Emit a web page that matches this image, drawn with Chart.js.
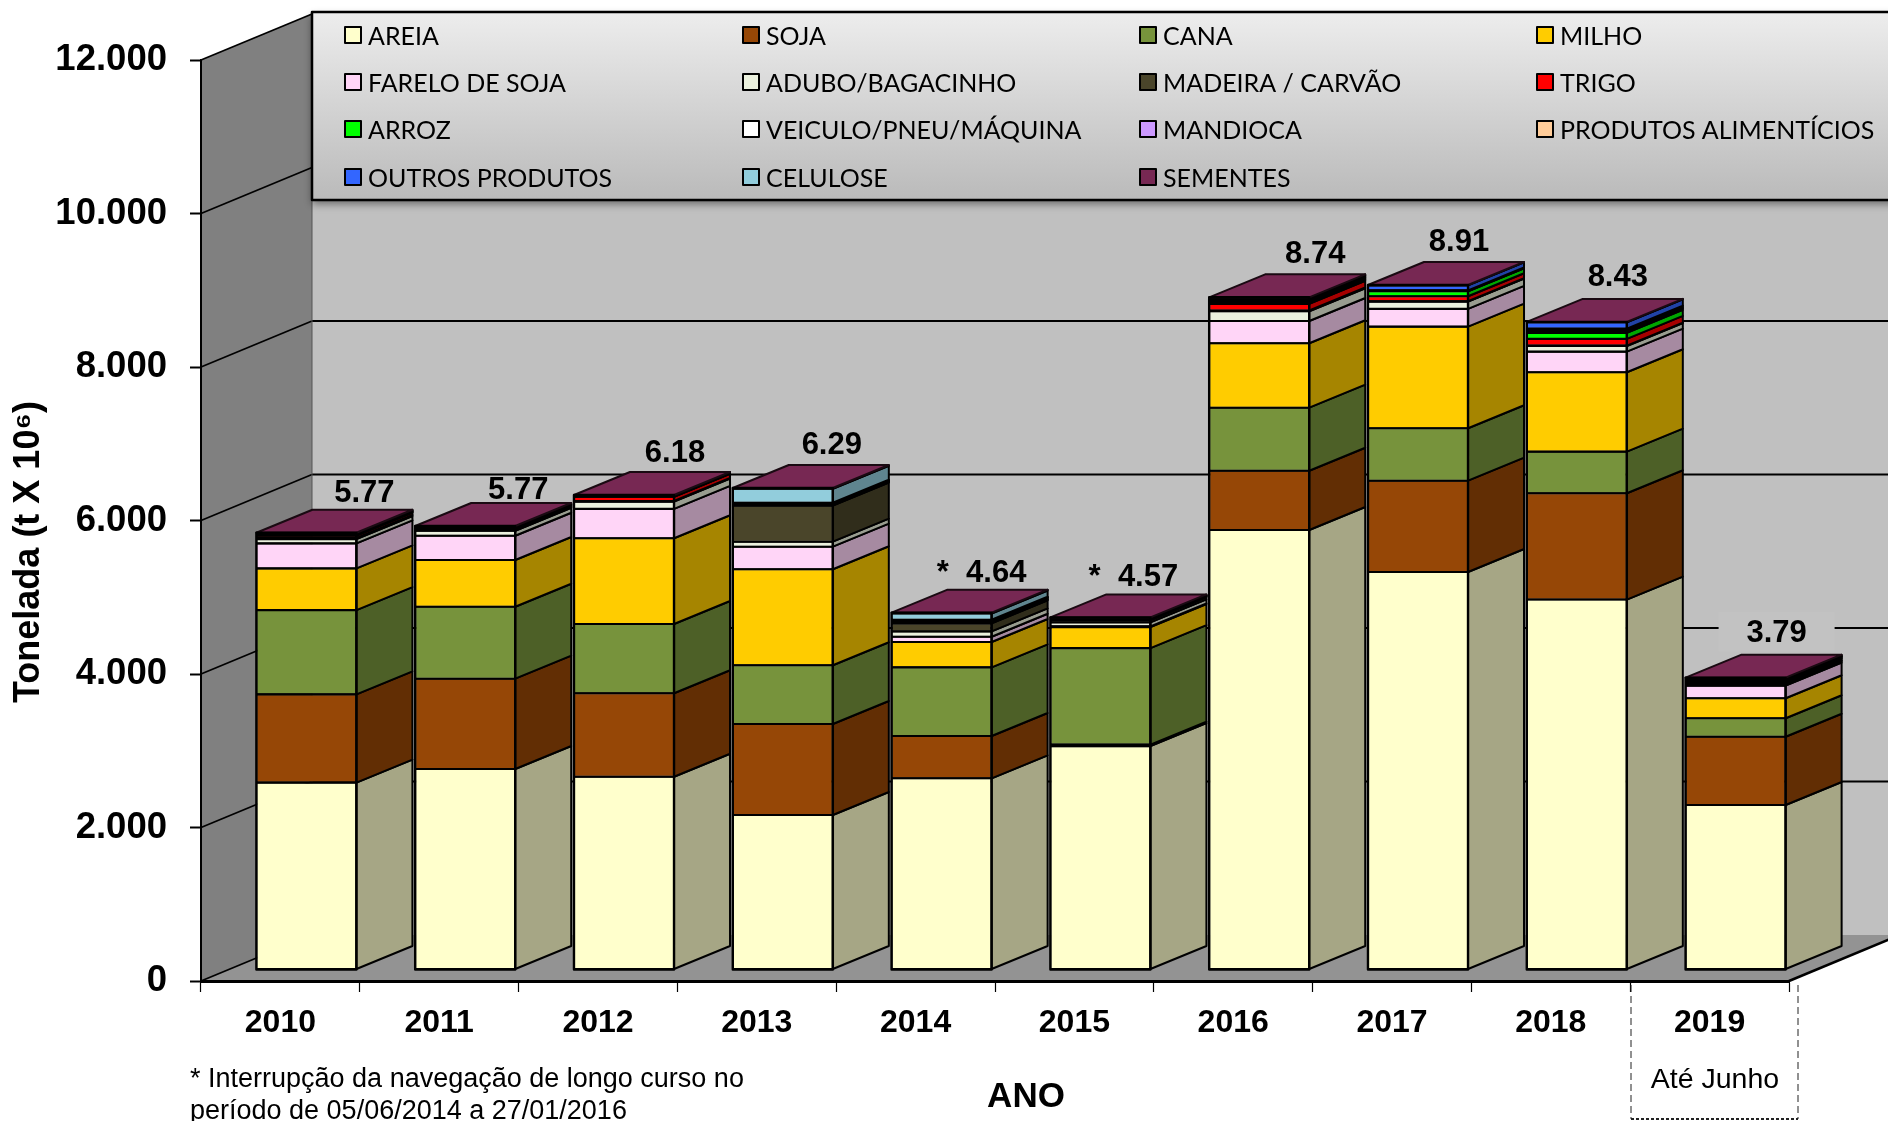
<!DOCTYPE html>
<html lang="pt">
<head>
<meta charset="utf-8">
<title>Tonelada por ano</title>
<style>html,body{margin:0;padding:0;background:#fff}canvas{display:block}</style>
<script src="https://cdn.jsdelivr.net/npm/chart.js@4"></script>
</head>
<body>
<canvas id="c" width="1888" height="1121"></canvas>
<script>
const years = ['2010','2011','2012','2013','2014','2015','2016','2017','2018','2019'];
const areia        = [2435,2612,2512,2013,2491,2910,5726,5179,4820,2143];
const soja         = [1150,1177,1087,1186, 551,  20, 773,1190,1385, 890];
const cana         = [1098, 938, 903, 765, 895,1257, 821, 683, 542, 240];
const milho        = [ 543, 608,1117,1251, 330, 274, 839,1324,1035, 261];
const farelo       = [ 326, 317, 382, 294,  69,  10, 291, 231, 268, 164];
const adubo        = [  56,  65,  95,  65,  69,  52, 126,  95,  74,  20];
const madeira      = [  15,   8,   8, 469, 104,  30,  10,   5,   5,  10];
const trigo        = [  30,  10,  55,  10,  10,   5,  87,  65,  87,  20];
const arroz        = [   5,   5,   3,   5,   5,   5,  15,  65,  78,  10];
const veiculo      = [   8,   8,   5,   8,  10,   5,  15,   3,  20,  10];
const mandioca     = [   5,   5,   3,   5,  10,   3,  15,   5,  18,  10];
const alimenticios = [   5,   5,   3,   5,   8,   3,  15,   3,  18,   5];
const outros       = [   3,   5,   3,   5,   5,   3,  10,  65,  82,   5];
const celulose     = [   0,   0,   0, 182,  82,   0,   0,   0,   0,   0];
const sementes     = [  12,  15,   7,  10,  10,  10,  15,   6,   6,  14];
const totalLabels  = ['5.77','5.77','6.18','6.29','*  4.64','*  4.57','8.74','8.91','8.43','3.79'];
const yTicks = [0,2000,4000,6000,8000,10000,12000];

const seriesNames = ['AREIA','SOJA','CANA','MILHO','FARELO DE SOJA','ADUBO/BAGACINHO','MADEIRA / CARVÃO','TRIGO','ARROZ','VEICULO/PNEU/MÁQUINA','MANDIOCA','PRODUTOS ALIMENTÍCIOS','OUTROS PRODUTOS','CELULOSE','SEMENTES'];
const seriesValues = [areia,soja,cana,milho,farelo,adubo,madeira,trigo,arroz,veiculo,mandioca,alimenticios,outros,celulose,sementes];
const seriesColors = ['#FFFFCC','#964706','#77933C','#FFCC00','#FFD5F7','#EBF1DE','#4A452A','#FF0000','#00FF00','#FFFFFF','#CC99FF','#FFCC99','#3366FF','#92CDDC','#772853'];
const SIDE_SHADE = 0.65;

// 3D geometry (pixels)
const WALL = {dx:111, dy:46};
const BAR  = {dx:26, dy:11.5};
const SIDE = {dx:56, dy:23};
const LABEL_OFF = [[58,-39.5],[53,-36],[51,-42],[49,-43],[40,-39],[33,-40],[56,-43],[41,-43],[41,-44],[41,-44]];
const FONT = '"Liberation Sans", Arial, sans-serif';

function shade(hex,f){
  const n=parseInt(hex.slice(1),16);
  return `rgb(${Math.round((n>>16&255)*f)},${Math.round((n>>8&255)*f)},${Math.round((n&255)*f)})`;
}
function poly(ctx,pts,fill,stroke,lw){
  ctx.beginPath();
  pts.forEach((p,i)=>i?ctx.lineTo(p[0],p[1]):ctx.moveTo(p[0],p[1]));
  ctx.closePath();
  if(fill){ctx.fillStyle=fill;ctx.fill();}
  if(stroke){ctx.strokeStyle=stroke;ctx.lineWidth=lw;ctx.lineJoin='round';ctx.stroke();}
}
function line(ctx,x1,y1,x2,y2,lw,color){
  ctx.beginPath();ctx.moveTo(x1,y1);ctx.lineTo(x2,y2);
  ctx.strokeStyle=color||'#000';ctx.lineWidth=lw;ctx.stroke();
}
function text(ctx,s,x,y,font,align){
  ctx.font=font;ctx.fillStyle='#000';ctx.textAlign=align||'center';ctx.textBaseline='middle';
  ctx.fillText(s,x,y);
}

const scene = {
  id:'scene',
  beforeDraw(chart){
    const {ctx,width,chartArea:a,scales:{y}}=chart;
    ctx.save();
    ctx.fillStyle='#fff';ctx.fillRect(0,0,width,chart.height);
    const b=a.bottom,t=a.top,l=a.left,r=a.right;
    const bx=l+WALL.dx,dy=WALL.dy;
    ctx.fillStyle='#C0C0C0';ctx.fillRect(bx,t-dy,width-bx,b-t);
    poly(ctx,[[l,b],[l,t],[bx,t-dy],[bx,b-dy]],'#808080');
    poly(ctx,[[l,b],[r,b],[r+WALL.dx,b-dy],[bx,b-dy]],'#939393');
    yTicks.forEach(v=>{
      const py=y.getPixelForValue(v);
      line(ctx,l,py,bx,py-dy,1.8);
      if(v>0) line(ctx,bx,py-dy,width,py-dy,1.8);
    });
    line(ctx,bx,t-dy,bx,b-dy,1,'#555');
    line(ctx,r,b,r+WALL.dx,b-dy,2.5);
    ctx.restore();
  },
  beforeDatasetDraw(chart){
    chart.ctx.save();
    chart.ctx.translate(BAR.dx,-BAR.dy);
  },
  afterDatasetDraw(chart){
    chart.ctx.restore();
  },
  afterDatasetsDraw(chart){
    const {ctx,scales:{y},chartArea:a,width}=chart;
    ctx.save();
    years.forEach((yr,j)=>{
      let topY=null,xr=0,xl=0;
      seriesValues.forEach((vals,i)=>{
        if(!vals[j]) return;
        const p=chart.getDatasetMeta(i).data[j].getProps(['x','y','base','width'],true);
        xr=p.x+p.width/2+BAR.dx; xl=p.x-p.width/2+BAR.dx;
        const y1=p.y-BAR.dy,y0=p.base-BAR.dy;
        poly(ctx,[[xr,y0],[xr,y1],[xr+SIDE.dx,y1-SIDE.dy],[xr+SIDE.dx,y0-SIDE.dy]],shade(seriesColors[i],SIDE_SHADE),'#000',2);
        line(ctx,xl,y1,xr,y1,2.1);
        topY=y1;
      });
      const baseY=y.getPixelForValue(0)-BAR.dy;
      poly(ctx,[[xl,topY],[xr,topY],[xr+SIDE.dx,topY-SIDE.dy],[xl+SIDE.dx,topY-SIDE.dy]],seriesColors[14],'#1a0a12',2);
      ctx.strokeStyle='#000';ctx.lineWidth=2.4;
      ctx.strokeRect(xl,topY,xr-xl,baseY-topY);
      const cx=(xl+xr)/2+LABEL_OFF[j][0],cy=topY+LABEL_OFF[j][1];
      if(j===9){ctx.fillStyle='#C2C2C2';ctx.fillRect(cx-58,cy-22,116,40);}
      text(ctx,totalLabels[j],cx,cy,'bold 31px '+FONT);
    });
    const lx=a.left+WALL.dx,ly=12,lh=188;
    ctx.save();
    ctx.shadowColor='rgba(0,0,0,0.45)';ctx.shadowBlur=8;ctx.shadowOffsetY=4;
    const g=ctx.createLinearGradient(0,ly,0,ly+lh);
    g.addColorStop(0,'#EDEDED');g.addColorStop(1,'#BABABA');
    ctx.fillStyle=g;ctx.fillRect(lx,ly,width-lx+10,lh);
    ctx.restore();
    ctx.strokeStyle='#000';ctx.lineWidth=2.5;ctx.strokeRect(lx,ly,width-lx+10,lh);
    const colX=[344,742,1139,1536],rowY=[35,82,129,177];
    seriesNames.forEach((name,i)=>{
      const cx=colX[i%4],cy=rowY[Math.floor(i/4)];
      ctx.fillStyle=seriesColors[i];ctx.fillRect(cx+1,cy-8,16,16);
      ctx.strokeStyle='#000';ctx.lineWidth=2;ctx.strokeRect(cx+1,cy-8,16,16);
      text(ctx,name,cx+24,cy+2,'25px Lato, "Open Sans", sans-serif','left');
    });
    ctx.save();
    ctx.translate(29,552);ctx.rotate(-Math.PI/2);
    text(ctx,'Tonelada (t X 10⁶)',0,0,'bold 36px '+FONT);
    ctx.restore();
    text(ctx,'ANO',1026,1097,'bold 35px '+FONT);
    text(ctx,'* Interrupção da navegação de longo curso no',190,1080,'27px '+FONT,'left');
    text(ctx,'período de 05/06/2014 a 27/01/2016',190,1112,'27px '+FONT,'left');
    text(ctx,'Até Junho',1715,1080,'28.5px '+FONT);
    ctx.setLineDash([7,4]);
    line(ctx,1631,985,1631,1119,1,'#222');
    line(ctx,1798,985,1798,1119,1,'#222');
    ctx.setLineDash([3,2]);
    line(ctx,1631,1119,1798,1119,2,'#222');
    ctx.setLineDash([]);
    ctx.restore();
  }
};

new Chart(document.getElementById('c'),{
  type:'bar',
  data:{
    labels:years,
    datasets:seriesNames.map((name,i)=>({
      label:name,
      data:seriesValues[i],
      backgroundColor:seriesColors[i],
      borderColor:'#000',
      borderWidth:1,
      borderSkipped:false,
      categoryPercentage:1,
      barPercentage:0.63,
      clip:false
    }))
  },
  options:{
    responsive:false,
    animation:false,
    events:[],
    layout:{padding:{left:0,right:99,top:60,bottom:0}},
    plugins:{legend:{display:false},tooltip:{enabled:false},title:{display:false}},
    scales:{
      x:{
        stacked:true,
        afterFit(s){s.height=140;},
        border:{color:'#000',width:3},
        grid:{display:true,drawOnChartArea:false,drawTicks:true,tickLength:11,color:'#000',tickWidth:1.2},
        ticks:{color:'#000',padding:11.5,maxRotation:0,font:{family:'"Liberation Sans"',weight:'bold',size:32}}
      },
      y:{
        stacked:true,
        min:0,max:12000,
        afterFit(s){s.width=201;},
        border:{color:'#000',width:2},
        grid:{display:true,drawOnChartArea:false,drawTicks:true,tickLength:11,color:'#000',tickWidth:2},
        ticks:{
          stepSize:2000,color:'#000',padding:23,
          font:{family:'"Liberation Sans"',weight:'bold',size:36.5},
          callback:v=>String(v).replace(/\B(?=(\d{3})+$)/g,'.')
        }
      }
    }
  },
  plugins:[scene]
});
</script>
</body>
</html>
